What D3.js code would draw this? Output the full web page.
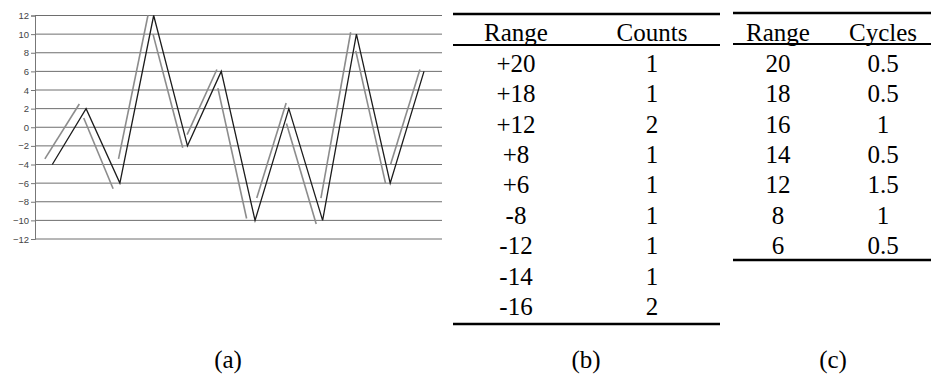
<!DOCTYPE html>
<html>
<head>
<meta charset="utf-8">
<script src="https://cdn.jsdelivr.net/npm/d3@7"></script>
<style>
  body { margin: 0; background: #fff; }
  svg { display: block; }
  .tbl text { font-family: "Liberation Serif", "Times New Roman", serif; font-size: 25px; fill: #000; }
  .axis text { font-family: "Liberation Sans", Arial, sans-serif; font-size: 9.5px; fill: #444; }
</style>
</head>
<body>
<div id="main-chart"></div>
<script>
// (a) load history, black line = reversals
var loadHistory = [-4, 2, -6, 12, -2, 6, -10, 2, -10, 10, -6, 6];
// grey half-cycle traces: [x0, y0, x1, y1] in (point index, value)
var traces = [
  [-0.22, -3.4, 0.8, 2.5],
  [0.93, 1.0, 1.8, -6.6],
  [1.96, -3.4, 2.83, 12.0],
  [2.98, 10.0, 3.86, -2.2],
  [3.99, -0.8, 4.87, 6.2],
  [4.9, 4.2, 5.75, -9.8],
  [6.05, -7.6, 6.92, 2.6],
  [6.93, 0.4, 7.81, -10.4],
  [7.95, -7.6, 8.83, 10.2],
  [8.98, 8.2, 9.86, -6.0],
  [10.01, -4.0, 10.88, 6.2]
];
var yTicks = [-12, -10, -8, -6, -4, -2, 0, 2, 4, 6, 8, 10, 12];

// (b) table
var rangesB = ["+20", "+18", "+12", "+8", "+6", "-8", "-12", "-14", "-16"];
var countsB = ["1", "1", "2", "1", "1", "1", "1", "1", "2"];
// (c) table
var rangesC = ["20", "18", "16", "14", "12", "8", "6"];
var cyclesC = ["0.5", "0.5", "1", "0.5", "1.5", "1", "0.5"];

var captions = ["(a)", "(b)", "(c)"];

var svg = d3
  .select("#main-chart")
  .append("svg")
  .attr("width", 931)
  .attr("height", 374);

function drawChart() {
  var x = d3.scaleLinear().domain([0, loadHistory.length - 1]).range([52.3, 424]);
  var y = d3.scaleLinear().domain([-12, 12]).range([239, 15.5]);

  var g = svg.append("g").attr("class", "chart");

  // grid
  g.append("g")
    .selectAll("line")
    .data(yTicks)
    .enter()
    .append("line")
    .attr("x1", 35)
    .attr("x2", 442)
    .attr("y1", d => y(d))
    .attr("y2", d => y(d))
    .style("stroke", "#6e6e6e")
    .style("stroke-width", 1);

  var axis = g
    .append("g")
    .attr("class", "axis")
    .attr("transform", "translate(35,0)")
    .call(d3.axisLeft(y).tickValues(yTicks).tickSize(4).tickPadding(2));
  axis.selectAll("path, line").style("stroke", "#777");

  // grey traces
  g.append("g")
    .selectAll("line")
    .data(traces)
    .enter()
    .append("line")
    .attr("x1", d => x(d[0]))
    .attr("y1", d => y(d[1]))
    .attr("x2", d => x(d[2]))
    .attr("y2", d => y(d[3]))
    .style("stroke", "#8c8c8c")
    .style("stroke-width", 1.6);

  // black history
  var line = d3
    .line()
    .x((d, i) => x(i))
    .y(d => y(d));

  g.append("path")
    .datum(loadHistory)
    .attr("d", line)
    .style("fill", "none")
    .style("stroke", "#1c1c1c")
    .style("stroke-width", 1.3)
    .style("stroke-linejoin", "miter");
}

function drawTable(cols, x0, x1, colX, ruleY, bottomY) {
  var t = svg.append("g").attr("class", "tbl");
  var row = d3.scaleLinear().domain([0, 1]).range([63, 93.4]);

  [ruleY[0], ruleY[1], bottomY].forEach(function(yy, i) {
    t.append("line")
      .attr("x1", x0)
      .attr("x2", x1)
      .attr("y1", yy)
      .attr("y2", yy)
      .style("stroke", "#000")
      .style("stroke-width", i == 1 ? 2 : 2.6);
  });

  cols.forEach(function(c, j) {
    t.append("text")
      .attr("x", colX[j])
      .attr("y", 32)
      .attr("dy", "0.35em")
      .attr("text-anchor", "middle")
      .text(c.head);

    t.append("g")
      .selectAll("text")
      .data(c.values)
      .enter()
      .append("text")
      .attr("x", colX[j])
      .attr("y", (d, i) => row(i))
      .attr("dy", "0.35em")
      .attr("text-anchor", "middle")
      .text(d => d);
  });
}

function drawCaptions() {
  var cx = [228, 586, 833];
  svg.append("g")
    .attr("class", "tbl")
    .selectAll("text")
    .data(captions)
    .enter()
    .append("text")
    .attr("x", (d, i) => cx[i])
    .attr("y", 359)
    .attr("dy", "0.35em")
    .attr("text-anchor", "middle")
    .text(d => d);
}

drawChart();
drawTable(
  [{ head: "Range", values: rangesB }, { head: "Counts", values: countsB }],
  453, 720, [516, 652], [14, 45], 324
);
drawTable(
  [{ head: "Range", values: rangesC }, { head: "Cycles", values: cyclesC }],
  733, 931, [778, 883], [13, 44], 260
);
drawCaptions();
</script>
</body>
</html>
